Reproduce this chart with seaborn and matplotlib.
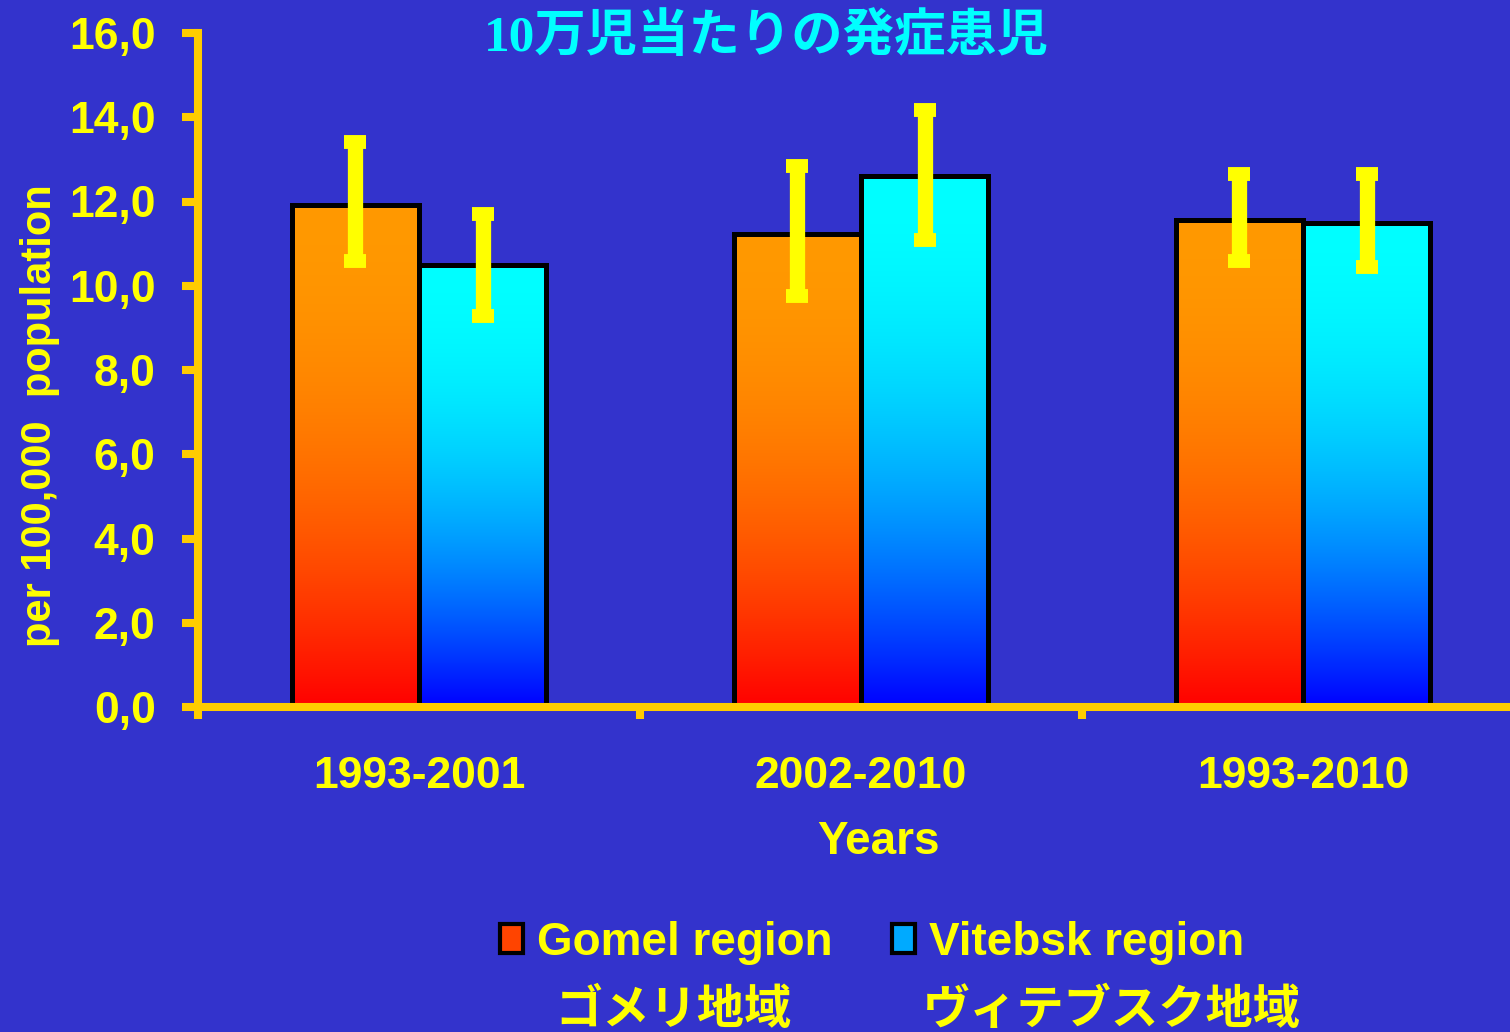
# Incidence per 100,000 children, Gomel vs Vitebsk region
import numpy as np
import pandas as pd
import matplotlib
matplotlib.use("Agg")
import matplotlib.pyplot as plt
from matplotlib.patches import Patch
import seaborn as sns

# data
periods = ["1993-2001", "2002-2010", "1993-2010"]
regions = ["Gomel region", "Vitebsk region"]
gomel = [11.92, 11.23, 11.57]
vitebsk = [10.49, 12.60, 11.50]
gomel_low = [10.59, 9.76, 10.59]
gomel_high = [13.41, 12.85, 12.66]
vitebsk_low = [9.29, 11.08, 10.45]
vitebsk_high = [11.70, 14.17, 12.66]
yticks = [0, 2, 4, 6, 8, 10, 12, 14, 16]

bg = "#3333CC"
gold = "#FFCC00"
yellow = "#FFFF00"

plt.rcParams["font.family"] = ["Liberation Sans", "Noto Sans CJK JP"]
plt.rcParams["font.weight"] = "bold"

df = pd.DataFrame({
    "period": periods * 2,
    "region": [regions[0]] * 3 + [regions[1]] * 3,
    "value": gomel + vitebsk,
})

fig = plt.figure(figsize=(15.1, 10.32), dpi=100, facecolor=bg)
ax = fig.add_axes([198 / 1510, 325 / 1032, 1326 / 1510, 674 / 1032])
ax.set_facecolor(bg)

sns.barplot(data=df, x="period", y="value", hue="region", order=periods,
            hue_order=regions, palette={regions[0]: "#FF9900", regions[1]: "#00FFFF"},
            width=0.575, gap=0, errorbar=None, edgecolor="black", linewidth=3.6,
            legend=False, ax=ax)
bar_groups = list(ax.containers)

# vertical gradient for each bar, clipped to the bar shape
grad_colors = {
    0: (np.array([1.0, 0.6, 0.0]), np.array([1.0, 0.0, 0.0])),
    1: (np.array([0.0, 1.0, 1.0]), np.array([0.0, 0.0, 1.0])),
}
f = np.linspace(0, 1, 256)[:, None] ** 2
for i, cont in enumerate(bar_groups):
    top, bottom = grad_colors[i]
    img = (top * (1 - f) + bottom * f).reshape(256, 1, 3)
    for bar in cont:
        x0, w, h = bar.get_x(), bar.get_width(), bar.get_height()
        im = ax.imshow(img, extent=[x0, x0 + w, 0, h], origin="upper",
                       aspect="auto", zorder=1.5, interpolation="bilinear")
        im.set_clip_path(bar)
        bar.set_facecolor("none")
        bar.set_zorder(2)

# error bars
lows = [gomel_low, vitebsk_low]
highs = [gomel_high, vitebsk_high]
vals = [gomel, vitebsk]
for i, cont in enumerate(bar_groups):
    xs = [b.get_x() + b.get_width() / 2 for b in cont]
    v = np.array(vals[i])
    yerr = [v - np.array(lows[i]), np.array(highs[i]) - v]
    ax.errorbar(xs, v, yerr=yerr, fmt="none", ecolor=yellow, elinewidth=11,
                capsize=8, capthick=10, zorder=3)

ax.set_xlim(-0.5, 2.5)
ax.set_ylim(0, 16)

for s in ["top", "right"]:
    ax.spines[s].set_visible(False)
for s in ["left", "bottom"]:
    ax.spines[s].set_color(gold)
    ax.spines[s].set_linewidth(5.8)
    ax.spines[s].set_zorder(2.5)

ax.set_yticks(yticks)
ax.set_yticklabels([f"{t:.1f}".replace(".", ",") for t in yticks])
ax.tick_params(axis="y", direction="out", length=11.5, width=5.8, color=gold,
               labelcolor=yellow, labelsize=32, pad=19)
ax.set_xticks([-0.5, 0.5, 1.5], minor=True)
ax.tick_params(axis="x", which="minor", direction="out", length=8.6, width=5.8, color=gold)
ax.tick_params(axis="x", which="major", length=0, labelcolor=yellow, labelsize=32, pad=35)

ax.set_xlabel("Years", color=yellow, fontsize=33, fontweight="bold")
ax.xaxis.set_label_coords((879 - 198) / 1326, -0.168)
ax.set_ylabel("per 100,000  population", color=yellow, fontsize=30, fontweight="bold")
ax.yaxis.set_label_coords(-0.104, 0.432)

# title
fig.text(766 / 1510, 1 - 38 / 1032, "10万児当たりの発症患児", color="#00FFFF",
         fontsize=37, fontweight="bold", ha="center", va="center",
         family=["Liberation Serif", "Noto Sans CJK JP"])

# legend
handles = [Patch(facecolor="#FF4400", edgecolor="black", linewidth=3),
           Patch(facecolor="#00AAFF", edgecolor="black", linewidth=3)]
fig.legend(handles, regions, loc="center", bbox_to_anchor=(872 / 1510, 1 - 943 / 1032),
           ncol=2, frameon=False, fontsize=33, labelcolor=yellow,
           handlelength=0.5, handleheight=0.6, handletextpad=0.3, columnspacing=1.3)

fig.text(673 / 1510, 1 - 986 / 1032, "ゴメリ地域", color=yellow, fontsize=34,
         ha="center", va="top", family=["Noto Sans CJK JP"])
fig.text(1112 / 1510, 1 - 986 / 1032, "ヴィテブスク地域", color=yellow, fontsize=34,
         ha="center", va="top", family=["Noto Sans CJK JP"])

fig.savefig("out.png", dpi=100, facecolor=bg)
